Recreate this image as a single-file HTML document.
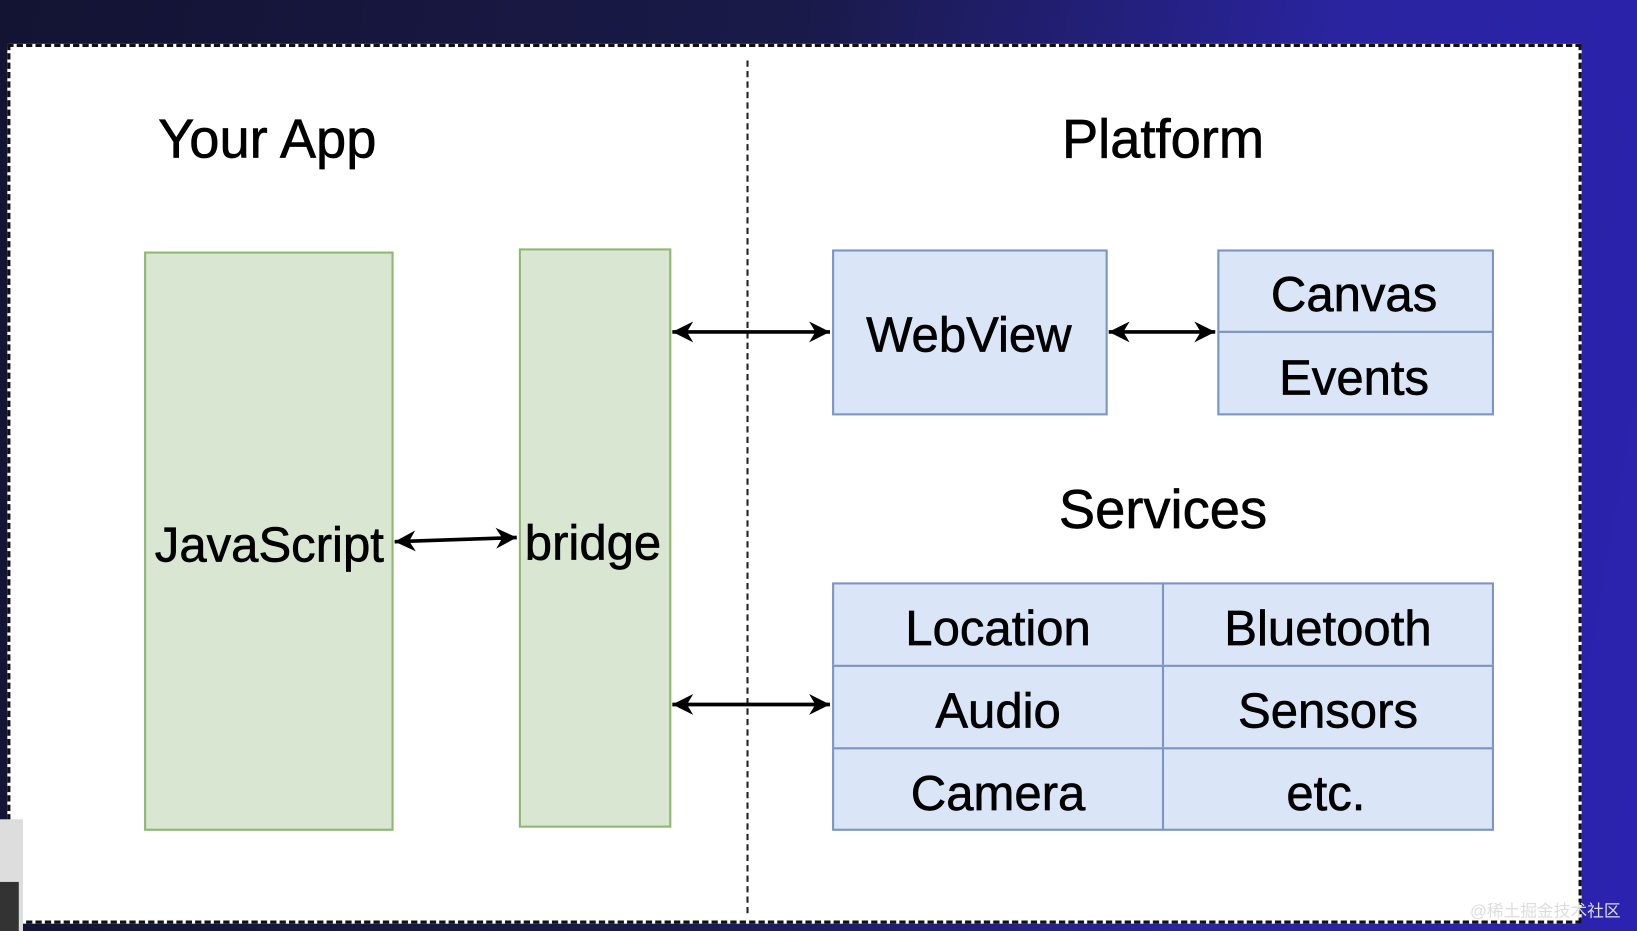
<!DOCTYPE html>
<html><head><meta charset="utf-8"><style>
html,body{margin:0;padding:0;width:1637px;height:931px;overflow:hidden;background:#16163c}
#bg{position:absolute;left:0;top:0;width:1637px;height:931px;background:linear-gradient(100deg,#131333 0%,#1a1a4a 45%,#2a24a0 75%,#2b22b0 100%)}
#s{position:absolute;left:0;top:0;width:1568px;height:892px;transform:scale(1.04401,1.0437);transform-origin:0 0;font-family:"Liberation Sans",Arial,sans-serif;color:#000}
.b{position:absolute;box-sizing:border-box}
.t{position:absolute;text-align:center;white-space:nowrap;font-size:47px;line-height:1;-webkit-text-stroke:0.6px #000}
.g{background:#d9e6d2;border:2px solid #8fb873}
.bl{background:#dae6f8;border:2px solid #7d95c2}
</style></head><body>
<div id="bg"></div>
<div id="s">
<div class="b" style="left:7px;top:42px;width:1508px;height:843px;background:#fff;border:3px dashed #111"></div>
<div class="b" style="left:0;top:785px;width:22px;height:107px;background:#ddd"></div>
<div class="b" style="left:0;top:845px;width:18px;height:47px;background:#333"></div>
<div class="b" style="left:715px;top:58px;width:0;height:817px;border-left:2px dashed #222"></div>
<div class="t" style="left:106px;width:300px;top:108px;font-size:52px">Your App</div>
<div class="t" style="left:964px;width:300px;top:108px;font-size:52px">Platform</div>
<div class="t" style="left:964px;width:300px;top:463px;font-size:52px">Services</div>
<div class="b g" style="left:138px;top:241px;width:239px;height:555px"></div>
<div class="b g" style="left:497px;top:238px;width:146px;height:555px"></div>
<div class="t" style="left:108px;width:300px;top:498px">JavaScript</div>
<div class="t" style="left:418px;width:300px;top:496px">bridge</div>
<div class="b bl" style="left:797px;top:239px;width:264px;height:159px"></div>
<div class="t" style="left:778px;width:300px;top:297px">WebView</div>
<div class="b bl" style="left:1166px;top:239px;width:265px;height:80px"></div>
<div class="b bl" style="left:1166px;top:317px;width:265px;height:81px"></div>
<div class="t" style="left:1147px;width:300px;top:258px">Canvas</div>
<div class="t" style="left:1147px;width:300px;top:338px">Events</div>
<div class="b bl" style="left:797px;top:558px;width:318px;height:81px"></div>
<div class="b bl" style="left:1113px;top:558px;width:318px;height:81px"></div>
<div class="b bl" style="left:797px;top:637px;width:318px;height:81px"></div>
<div class="b bl" style="left:1113px;top:637px;width:318px;height:81px"></div>
<div class="b bl" style="left:797px;top:716px;width:318px;height:80px"></div>
<div class="b bl" style="left:1113px;top:716px;width:318px;height:80px"></div>
<div class="t" style="left:806px;width:300px;top:578px">Location</div>
<div class="t" style="left:1122px;width:300px;top:578px">Bluetooth</div>
<div class="t" style="left:806px;width:300px;top:657px">Audio</div>
<div class="t" style="left:1122px;width:300px;top:657px">Sensors</div>
<div class="t" style="left:806px;width:300px;top:736px">Camera</div>
<div class="t" style="left:1120px;width:300px;top:736px">etc.</div>
<svg class="b" style="left:0;top:0" width="1568" height="892">
<defs>
<marker id="m" markerWidth="24" markerHeight="24" refX="22" refY="12" orient="auto-start-reverse" markerUnits="userSpaceOnUse"><path d="M2,2 L22,12 L2,22 L8,12 z" fill="#000"/></marker></defs>
<g stroke="#000" stroke-width="3.5" fill="none">
<line x1="644" y1="318" x2="795" y2="318" marker-start="url(#m)" marker-end="url(#m)"/>
<line x1="1062" y1="318" x2="1164" y2="318" marker-start="url(#m)" marker-end="url(#m)"/>
<line x1="378" y1="519" x2="495" y2="515" marker-start="url(#m)" marker-end="url(#m)"/>
<line x1="644" y1="675" x2="795" y2="675" marker-start="url(#m)" marker-end="url(#m)"/>
</g></svg>
<div class="t" style="left:1408px;top:866px;font-size:16px;color:#ddd;-webkit-text-stroke:0;font-family:'Liberation Sans','Noto Sans CJK SC',sans-serif">@稀土掘金技术社区</div>
</div>
</body></html>
